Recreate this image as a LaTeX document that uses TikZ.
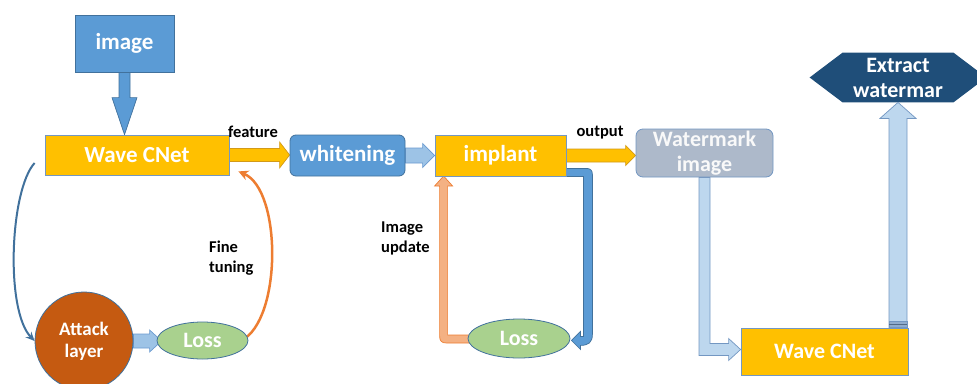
\documentclass[tikz,border=0pt]{standalone}
\usepackage{fontspec}
\setmainfont{Carlito}
\usetikzlibrary{calc,shapes.geometric,arrows.meta}
\pgfdeclarelayer{bg}
\pgfsetlayers{bg,main}
\definecolor{cblue}{HTML}{5B9BD5}
\definecolor{cblueline}{HTML}{41719C}
\definecolor{cyellow}{HTML}{FFC000}
\definecolor{cyelline}{HTML}{D39A17}
\definecolor{cgray}{HTML}{ADB9CA}
\definecolor{cnavy}{HTML}{1F4E79}
\definecolor{crust}{HTML}{C55A11}
\definecolor{cgreen}{HTML}{A9D18E}
\definecolor{clblue}{HTML}{9DC3E6}
\definecolor{clbline}{HTML}{6A9AD0}
\definecolor{cpale}{HTML}{BDD7EE}
\definecolor{cpaleline}{HTML}{7397C2}
\definecolor{corange}{HTML}{ED7D31}
\definecolor{clorange}{HTML}{F4B183}
\newcommand\rarrow[6]{%
  \draw[#1] let \p1=(#2), \p2=(#3) in
   (\x1,\y1+#4) -- (\x2-#6,\y1+#4) -- (\x2-#6,\y1+#5) -- (\x2,\y1) --
   (\x2-#6,\y1-#5) -- (\x2-#6,\y1-#4) -- (\x1,\y1-#4) -- cycle;}
\newcommand\darrow[6]{%
  \draw[#1] let \p1=(#2), \p2=(#3) in
   (\x1-#4,\y1) -- (\x1-#4,\y2+#6) -- (\x1-#5,\y2+#6) -- (\x1,\y2) --
   (\x1+#5,\y2+#6) -- (\x1+#4,\y2+#6) -- (\x1+#4,\y1) -- cycle;}
\newcommand\uarrow[6]{%
  \draw[#1] let \p1=(#2), \p2=(#3) in
   (\x1-#4,\y1) -- (\x1-#4,\y2-#6) -- (\x1-#5,\y2-#6) -- (\x1,\y2) --
   (\x1+#5,\y2-#6) -- (\x1+#4,\y2-#6) -- (\x1+#4,\y1) -- cycle;}
\begin{document}
\begin{tikzpicture}[x=1pt,y=-1pt,
  box/.style={draw=cblueline, line width=0.8pt, text=white, inner sep=0pt,
    font=\fontsize{23}{25}\selectfont\bfseries, align=center},
  lbl/.style={text=black, inner sep=0pt, font=\fontsize{16.5}{20}\selectfont\bfseries},
  barblue/.style={fill=cblue, draw=cblueline, line width=0.7pt},
  barlight/.style={fill=clblue, draw=clbline, line width=0.7pt},
  barpale/.style={fill=cpale, draw=cpaleline, line width=0.7pt},
  baryel/.style={fill=cyellow, draw=cyelline, line width=0.7pt},
  barorange/.style={fill=clorange, draw=corange, line width=0.7pt}]
\clip (0,0) rectangle (977,383);
\useasboundingbox (0,0) rectangle (977,383);

% nodes
\node[box, fill=cblue, minimum width=99pt, minimum height=57pt] (img) at (124.5,43.5) {image};
\node[box, fill=cyellow, draw=cpaleline, minimum width=184pt, minimum height=40pt] (wc) at (137,155) {Wave CNet};
\node[box, fill=cblue, rounded corners=6pt, minimum width=115pt, minimum height=41pt] (wh) at (347.5,155.5) {whitening};
\node[box, fill=cyellow, draw=cpaleline, minimum width=131pt, minimum height=41pt] (im) at (500.5,155.5) {implant};
\node[box, fill=cgray, draw=cpaleline, rounded corners=7pt, minimum width=137pt, minimum height=48pt,
  font=\fontsize{22}{25}\selectfont\bfseries, text=white!95!gray] (wm) at (704.5,153) {Watermark\\image};
\node[box, fill=cyellow, draw=cpaleline, minimum width=167pt, minimum height=47pt,
  font=\fontsize{22}{25}\selectfont\bfseries] (wc2) at (824.5,351.5) {Wave CNet};
\node[box, draw=none, minimum width=110pt, minimum height=49pt,
  font=\fontsize{22}{25}\selectfont\bfseries] (ex) at (898,77.5) {Extract\\watermar};
\node[box, circle, fill=crust, draw=cblueline, minimum size=98pt,
  font=\fontsize{19}{22}\selectfont\bfseries] (at) at (84,341) {Attack\\layer};
\node[box, ellipse, fill=cgreen, minimum width=91pt, minimum height=37pt,
  font=\fontsize{22}{25}\selectfont\bfseries] (l1) at (202.5,340.5) {Loss};
\node[box, ellipse, fill=cgreen, minimum width=102pt, minimum height=39pt,
  font=\fontsize{22}{25}\selectfont\bfseries] (l2) at (519,338.5) {Loss};

% labels
\node[lbl] (tfeat) at (253,132) {feature};
\node[lbl] (tout) at (600,133) {output};
\node[lbl, anchor=west, align=left] (tfine) at (209,258) {Fine\\tuning};
\node[lbl, anchor=west, align=left] (tupd) at (381,238) {Image\\update};

\begin{pgfonlayer}{bg}
% extract hexagon
\fill[cnavy] (ex.north west) -- (ex.north east) -- ($(ex.east)+(33,0)$) -- (ex.south east)
  -- (ex.south west) -- ($(ex.west)+(-33,0)$) -- cycle;
% straight block arrows
\darrow{barblue}{img.south}{img.south |- wc.north}{5.5}{12.5}{37}
\rarrow{baryel}{wc.east}{wh.west}{6.5}{13}{10}
\rarrow{barlight}{wh.east}{im.west}{7.5}{12}{12}
\rarrow{baryel}{im.east}{wm.west}{6.5}{10}{10}
\rarrow{barlight}{at.east}{$(l1.west)+(5,0)$}{7}{11}{12}
\uarrow{barpale}{ex.south |- wc2.north}{ex.south}{9}{18}{16}
\draw[fill=cpaleline!80, draw=cpaleline, line width=0.7pt]
  ($(ex.south |- wc2.north)+(-9,-6)$) rectangle ($(ex.south |- wc2.north)+(9,0)$);
\draw[cpaleline!70!black, line width=0.5pt]
  ($(ex.south |- wc2.north)+(-9,-3)$) -- ($(ex.south |- wc2.north)+(9,-3)$);
% watermark image -> wave cnet 2
\draw[barpale] let \p1=(wm.south), \p2=($(wc2.west)+(0,-2)$) in
  (\x1-5.5,\y1) -- (\x1-5.5,\y2-6) -- (\x2-12,\y2-6) -- (\x2-12,\y2-11) -- (\x2,\y2)
  -- (\x2-12,\y2+11) -- (\x2-12,\y2+6) -- (\x1+5.5,\y2+6) -- (\x1+5.5,\y1) -- cycle;
% implant -> loss (blue U-turn)
\begin{scope}[shift={(im.south east)}]
\draw[barblue] (-3,-8) -- (20,-8) .. controls (24,-8) and (26,-6) .. (26,-2)
  -- (26,158) .. controls (26,166) and (22,169) .. (14,169) -- (14,173) -- (5,164)
  -- (14,155) -- (14,160) -- (17,160) -- (17,0) -- (-3,0) -- cycle;
\end{scope}
% loss -> implant (orange)
\begin{scope}[shift={(l2.west)}]
\draw[barorange] (4,-3.5) -- (-20,-3.5) -- (-20,-152.5) -- (-15,-152.5) -- (-24,-162.5)
  -- (-33,-152.5) -- (-28,-152.5) -- (-28,-2.5) .. controls (-28,2.5) and (-26,4.5) .. (-21,4.5)
  -- (4,4.5) -- cycle;
\end{scope}
% curved arrows
\draw[cblueline, line width=2pt, -{Stealth[length=9pt,width=8pt]}]
  ($(wc.west)+(-10,8)$) .. controls (10,190) and (5,310) .. (at.west);
\draw[corange, line width=2.5pt, -{Stealth[length=10pt,width=10pt]}]
  ($(l1.east)+(-7,0)$) .. controls (282,320) and (282,190) .. ($(wc.south east)+(9,-4)$);
\end{pgfonlayer}
\end{tikzpicture}
\end{document}
